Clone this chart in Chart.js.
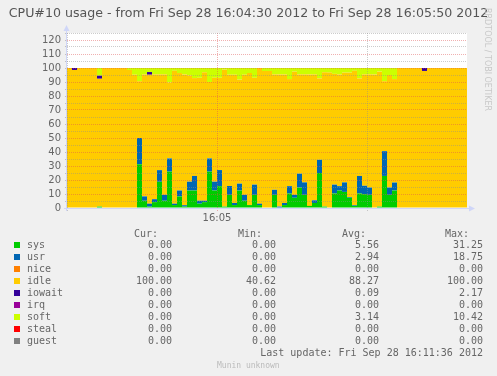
<!DOCTYPE html>
<html>
<head>
<meta charset="utf-8">
<script src="https://cdn.jsdelivr.net/npm/chart.js@4.4.0/dist/chart.umd.min.js"></script>
<style>
  html, body { margin: 0; padding: 0; background: #f0f0f0; }
  #wrap { position: relative; width: 497px; height: 376px; overflow: hidden; font-family: 'DejaVu Sans', sans-serif; color: #666; }
  #c { position: absolute; left: 0; top: 0; }
  .title { position: absolute; left: 0; top: 5px; width: 497px; text-align: center; font-size: 12.6px; line-height: 16px; color: #555; white-space: nowrap; }
  .mark { position: absolute; left: 483px; top: 8px; writing-mode: vertical-rl; font-size: 8px; color: #c8c8c8; white-space: nowrap; }
  .mono { position: absolute; font-family: 'DejaVu Sans Mono', monospace; font-size: 10px; line-height: 12px; white-space: pre; color: #666; }
  .sw { position: absolute; width: 6px; height: 6px; }
</style>
</head>
<body>
<div id="wrap">
  <canvas id="c" width="497" height="230"></canvas>
  <div class="title">CPU#10 usage - from Fri Sep 28 16:04:30 2012 to Fri Sep 28 16:05:50 2012</div>
  <div class="mark">RRDTOOL / TOBI OETIKER</div>
  <div id="legend"></div>
</div>
<script>
// one sample per second, 16:04:30 .. 16:05:50
const sys = [
  0, 0, 0, 0, 0, 0, 1, 0, 0, 0,
  0, 0, 0, 0, 31.25, 5.2, 1, 4.2, 18.75, 5.2,
  26, 2.1, 8.3, 1, 12.5, 12.5, 3.1, 4.2, 26, 12.5,
  15.6, 1, 9.4, 2.1, 12.5, 5.2, 2.1, 9.4, 2.1, 0,
  0, 9.4, 0, 2.1, 10.4, 7.3, 14.6, 9.4, 1.5, 3.6,
  25, 1, 0, 10.4, 12.5, 11.5, 7.3, 1.5, 10.4, 9.9,
  9.4, 0, 1, 22.9, 9.4, 12.5, 0, 0, 0, 0,
  0, 0, 0, 0, 0, 0, 0, 0, 0, 0
];
const usr = [
  0, 0, 0, 0, 0, 0, 0, 0, 0, 0,
  0, 0, 0, 0, 18.75, 3.1, 2.1, 2.1, 8.3, 4.2,
  9.4, 1, 4.2, 1, 6.3, 10.4, 2.1, 1, 9.4, 6.3,
  11.5, 0, 6.3, 1.5, 4.9, 4.2, 0, 7.3, 1, 0,
  0, 3.6, 1, 1.5, 5.2, 2.1, 9.9, 8.9, 0, 1.9,
  9.4, 0, 0, 6.3, 3.1, 6.8, 0.5, 0.5, 12.5, 6,
  5.2, 0, 0, 17.7, 5.2, 5.7, 0, 0, 0, 0,
  0, 0, 0, 0, 0, 0, 0, 0, 0, 0
];
const nice = [
  0, 0, 0, 0, 0, 0, 0, 0, 0, 0,  0, 0, 0, 0, 0, 0, 0, 0, 0, 0,
  0, 0, 0, 0, 0, 0, 0, 0, 0, 0,  0, 0, 0, 0, 0, 0, 0, 0, 0, 0,
  0, 0, 0, 0, 0, 0, 0, 0, 0, 0,  0, 0, 0, 0, 0, 0, 0, 0, 0, 0,
  0, 0, 0, 0, 0, 0, 0, 0, 0, 0,  0, 0, 0, 0, 0, 0, 0, 0, 0, 0
];
const idle = [
  100, 98.6, 100, 100, 100, 100, 91.33, 100, 100, 100,
  100, 100, 98.5, 95.2, 40.6, 87.1, 92.1, 89.1, 68.35, 86,
  54.2, 94.9, 83.9, 93.4, 76, 69.9, 87.8, 91.7, 54.6, 74.2,
  65.9, 97.8, 79.5, 91.6, 74.3, 85.8, 94.3, 76.3, 96.9, 97.8,
  97.8, 82.4, 94.4, 91.8, 76.5, 88, 70.9, 77.1, 93.9, 89.9,
  58.2, 95.9, 96.7, 79.1, 79.8, 78.4, 88.9, 96, 69.7, 79.5,
  80.8, 95.4, 96.4, 50, 80.4, 73.9, 100, 100, 100, 100,
  100, 97.9, 100, 100, 100, 100, 100, 100, 100, 100
];
const iowait = [
  0, 1.4, 0, 0, 0, 0, 2.17, 0, 0, 0,  0, 0, 0, 0, 0, 0, 1.9, 0, 0, 0,
  0, 0, 0, 0, 0, 0, 0, 0, 0, 0,  0, 0, 0, 0, 0, 0, 0, 0, 0, 0,
  0, 0, 0, 0, 0, 0, 0, 0, 0, 0,  0, 0, 0, 0, 0, 0, 0, 0, 0, 0,
  0, 0, 0, 0, 0, 0, 0, 0, 0, 0,  0, 2.1, 0, 0, 0, 0, 0, 0, 0, 0
];
const irq = nice;
const soft = [
  0, 0, 0, 0, 0, 0, 5.5, 0, 0, 0,
  0, 0, 1.5, 4.8, 9.4, 4.6, 2.9, 4.6, 4.6, 4.6,
  10.4, 2, 3.6, 4.6, 5.2, 7.2, 7, 3.1, 10, 7,
  7, 1.2, 4.8, 4.8, 8.3, 4.8, 3.6, 7, 0, 2.2,
  2.2, 4.6, 4.6, 4.6, 7.9, 2.6, 4.6, 4.6, 4.6, 4.6,
  7.4, 3.1, 3.3, 4.2, 4.6, 3.3, 3.3, 2, 7.4, 4.6,
  4.6, 4.6, 2.6, 9.4, 5, 7.9, 0, 0, 0, 0,
  0, 0, 0, 0, 0, 0, 0, 0, 0, 0
];
const steal = nice;
const guest = nice;

const seriesNames = ['sys', 'usr', 'nice', 'idle', 'iowait', 'irq', 'soft', 'steal', 'guest'];
const seriesColors = ['#00CC00', '#0066B3', '#FF8000', '#FFCC00', '#330099', '#990099', '#CCFF00', '#FF0000', '#808080'];
const seriesValues = [sys, usr, nice, idle, iowait, irq, soft, steal, guest];

const curVals = ['0.00', '0.00', '0.00', '100.00', '0.00', '0.00', '0.00', '0.00', '0.00'];
const minVals = ['0.00', '0.00', '0.00', '40.62', '0.00', '0.00', '0.00', '0.00', '0.00'];
const avgVals = ['5.56', '2.94', '0.00', '88.27', '0.09', '0.00', '3.14', '0.00', '0.00'];
const maxVals = ['31.25', '18.75', '0.00', '100.00', '2.17', '0.00', '10.42', '0.00', '0.00'];

const yTickValues = [0, 5, 10, 15, 20, 25, 30, 35, 40, 45, 50, 55, 60, 65, 70, 75, 80, 85, 90, 95, 100, 105, 110, 115, 120, 125];
const yLabelValues = [0, 10, 20, 30, 40, 50, 60, 70, 80, 90, 100, 110, 120];
const xTickValues = [0, 30, 60];
const xTickLabels = ['', '16:05', ''];
const xMajor = [30];

const MAJOR = 'rgba(222,79,79,0.45)';
const MINOR = 'rgba(143,143,143,0.45)';
const AXIS = '#CFD6F8';

const tickVal = (c) => (c && c.tick ? c.tick.value : null);

// white canvas behind the graph, axis lines and arrows on top
const frame = {
  id: 'frame',
  beforeDraw(chart) {
    const { ctx, chartArea: a } = chart;
    ctx.save();
    ctx.fillStyle = '#ffffff';
    ctx.fillRect(a.left, a.top, a.right - a.left, a.bottom - a.top);
    ctx.restore();
  },
  afterDraw(chart) {
    const { ctx, chartArea: a } = chart;
    ctx.save();
    ctx.strokeStyle = AXIS;
    ctx.fillStyle = AXIS;
    ctx.lineWidth = 1;
    ctx.beginPath();
    ctx.moveTo(a.left - 0.5, a.top - 4);
    ctx.lineTo(a.left - 0.5, a.bottom + 3);
    ctx.moveTo(a.left - 3, a.bottom + 0.5);
    ctx.lineTo(a.right + 4, a.bottom + 0.5);
    ctx.stroke();
    ctx.beginPath();
    ctx.moveTo(a.left - 0.5, a.top - 8);
    ctx.lineTo(a.left - 3.5, a.top - 2);
    ctx.lineTo(a.left + 2.5, a.top - 2);
    ctx.closePath();
    ctx.fill();
    ctx.beginPath();
    ctx.moveTo(a.right + 8, a.bottom + 0.5);
    ctx.lineTo(a.right + 2, a.bottom - 2.5);
    ctx.lineTo(a.right + 2, a.bottom + 3.5);
    ctx.closePath();
    ctx.fill();
    ctx.restore();
  }
};

new Chart(document.getElementById('c'), {
  type: 'bar',
  data: {
    datasets: seriesNames.map((name, k) => ({
      label: name,
      data: seriesValues[k].map((v, i) => ({ x: i + 0.5, y: v })),
      backgroundColor: seriesColors[k],
      borderWidth: 0,
      inflateAmount: 0,
      categoryPercentage: 1,
      barPercentage: 1
    }))
  },
  options: {
    responsive: false,
    animation: false,
    layout: { padding: { left: 0, top: 33, right: 30, bottom: 0 } },
    plugins: { legend: { display: false }, tooltip: { enabled: false } },
    scales: {
      x: {
        type: 'linear',
        stacked: true,
        offset: false,
        min: 0,
        max: 80,
        afterFit: (s) => { s.height = 22; },
        afterBuildTicks: (s) => { s.ticks = xTickValues.map(v => ({ value: v })); },
        ticks: {
          autoSkip: false,
          maxRotation: 0,
          padding: 1,
          color: '#666',
          font: { family: 'DejaVu Sans', size: 10 },
          callback: (v) => xTickLabels[xTickValues.indexOf(v)] || ''
        },
        grid: {
          z: 1,
          offset: false,
          tickLength: 3,
          color: (c) => xMajor.includes(tickVal(c)) ? MAJOR : MINOR,
          tickColor: (c) => xMajor.includes(tickVal(c)) ? MAJOR : MINOR,
          tickBorderDash: [1, 1]
        },
        border: { display: false, dash: [1, 1] }
      },
      y: {
        stacked: true,
        min: 0,
        max: 125,
        afterFit: (s) => { s.width = 67; },
        afterBuildTicks: (s) => { s.ticks = yTickValues.map(v => ({ value: v })); },
        ticks: {
          autoSkip: false,
          padding: 4,
          color: '#666',
          font: { family: 'DejaVu Sans', size: 10 },
          callback: (v) => yLabelValues.includes(v) ? String(v) : ''
        },
        grid: {
          z: 1,
          tickLength: 2,
          color: (c) => yLabelValues.includes(tickVal(c)) ? MAJOR : MINOR,
          tickColor: 'rgba(160,160,160,0.6)'
        },
        border: { display: false, dash: [1, 1] }
      }
    }
  },
  plugins: [frame]
});

// text legend below the graph
const legend = document.getElementById('legend');
function put(text, left, right, top, extra) {
  const d = document.createElement('div');
  d.className = 'mono';
  d.textContent = text;
  d.style.top = top + 'px';
  if (left !== null) d.style.left = left + 'px';
  if (right !== null) { d.style.right = (497 - right) + 'px'; d.style.textAlign = 'right'; }
  if (extra) Object.assign(d.style, extra);
  legend.appendChild(d);
}
const colRight = [172, 276, 379, 483];
const headRight = [158, 262, 366, 469];
['Cur:', 'Min:', 'Avg:', 'Max:'].forEach((h, j) => put(h, null, headRight[j], 228));
seriesNames.forEach((name, k) => {
  const top = 239 + 12 * k;
  const sw = document.createElement('div');
  sw.className = 'sw';
  sw.style.left = '14px';
  sw.style.top = (top + 3) + 'px';
  sw.style.background = seriesColors[k];
  legend.appendChild(sw);
  put(name, 27, null, top);
  [curVals, minVals, avgVals, maxVals].forEach((arr, j) => put(arr[k], null, colRight[j], top));
});
put('Last update: Fri Sep 28 16:11:36 2012', null, 483, 347);
put('Munin unknown', 217, null, 360, { fontSize: '8px', color: '#bbb' });
</script>
</body>
</html>
